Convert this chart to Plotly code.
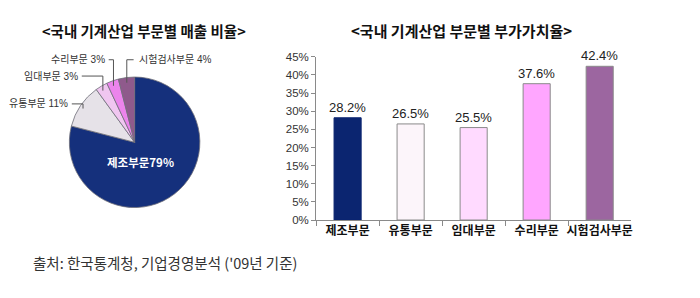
import math
import plotly.graph_objects as go

# ---------------- data ----------------
pie_labels = ["제조부문", "유통부문", "임대부문", "수리부문", "시험검사부문"]
pie_values = [79, 11, 3, 3, 4]

bar_categories = ["제조부문", "유통부문", "임대부문", "수리부문", "시험검사부문"]
bar_values = [28.2, 26.5, 25.5, 37.6, 42.4]

y_ticks = [0, 5, 10, 15, 20, 25, 30, 35, 40, 45]

pie_title = "&lt;국내 기계산업 부문별 매출 비율&gt;"
bar_title = "&lt;국내 기계산업 부문별 부가가치율&gt;"
source_text = "출처: 한국통계청, 기업경영분석 ('09년 기준)"

# ---------------- style ----------------
W, H = 700, 298
pie_colors = ["#15307c", "#e6e2e8", "#f0c6f0", "#ec84ec", "#8f5a8c"]
bar_colors = ["#0b2570", "#fcf5fa", "#ffdaff", "#ffa6ff", "#9c66a0"]
bar_lines = ["#0b2570", "#8a8a8a", "#8a8a8a", "#8a8a8a", "#8a8a8a"]
FONT = "Liberation Sans, Noto Sans CJK KR, sans-serif"
KFONT = "Noto Sans CJK KR, sans-serif"


def px(x):
    return x / W


def py(y):
    return 1 - y / H


# pie geometry (pixels)
cx, cy, r = 135, 142, 68

fig = go.Figure()

fig.add_trace(go.Pie(
    labels=pie_labels,
    values=pie_values,
    sort=False,
    direction="clockwise",
    rotation=0,
    textinfo="none",
    hoverinfo="label+percent",
    marker=dict(colors=pie_colors, line=dict(color="#6e6e78", width=0.8)),
    domain=dict(x=[px(cx - r), px(cx + r)], y=[py(cy + r), py(cy - r)]),
    showlegend=False,
))

fig.add_trace(go.Bar(
    x=bar_categories,
    y=bar_values,
    marker=dict(color=bar_colors, line=dict(color=bar_lines, width=1)),
    width=0.43,
    texttemplate="%{y:.1f}%",
    textposition="outside",
    constraintext="none",
    textfont=dict(family=FONT, size=13, color="#222222"),
    cliponaxis=False,
    showlegend=False,
    xaxis="x", yaxis="y",
))

annotations = []
shapes = []

# titles & source
annotations.append(dict(x=px(144), y=py(26), xref="paper", yref="paper", text=pie_title,
                        showarrow=False, font=dict(family=KFONT, size=14.5, color="#111111", weight="bold"),
                        xanchor="center", yanchor="middle"))
annotations.append(dict(x=px(463), y=py(26), xref="paper", yref="paper", text=bar_title,
                        showarrow=False, font=dict(family=KFONT, size=15, color="#111111", weight="bold"),
                        xanchor="center", yanchor="middle"))
annotations.append(dict(x=px(31), y=py(267), xref="paper", yref="paper", text=source_text,
                        showarrow=False, font=dict(family=KFONT, size=14.5, color="#333333"),
                        xanchor="left", yanchor="middle"))

# big slice label inside
annotations.append(dict(x=px(cx + 6), y=py(cy + 21), xref="paper", yref="paper",
                        text="%s%d%%" % (pie_labels[0], pie_values[0]),
                        showarrow=False, font=dict(family=KFONT, size=11.5, color="white", weight="bold"),
                        xanchor="center", yanchor="middle"))

# outside labels with leader lines (label placement: x edge, y, anchor side)
label_place = {1: (70, 102, "right"), 2: (80, 73, "right"), 3: (107, 56, "right"), 4: (137, 56, "left")}
total = sum(pie_values)
cum = 0
for i, v in enumerate(pie_values):
    mid = (cum + v / 2) / total * 2 * math.pi
    cum += v
    if i not in label_place:
        continue
    lx, ly, side = label_place[i]
    ax = cx + 0.92 * r * math.sin(mid)
    ay = cy - 0.92 * r * math.cos(mid)
    hx = lx + 2 if side == "right" else lx - 3
    shapes.append(dict(type="line", xref="paper", yref="paper", x0=px(ax), y0=py(ay), x1=px(ax), y1=py(ly),
                       line=dict(color="#555555", width=1)))
    shapes.append(dict(type="line", xref="paper", yref="paper", x0=px(ax), y0=py(ly), x1=px(hx), y1=py(ly),
                       line=dict(color="#555555", width=1)))
    annotations.append(dict(x=px(lx), y=py(ly), xref="paper", yref="paper",
                            text="%s %d%%" % (pie_labels[i], v), showarrow=False,
                            font=dict(family=FONT, size=10, color="#333333"),
                            xanchor=side, yanchor="middle"))

fig.update_layout(
    width=W, height=H,
    margin=dict(l=0, r=0, t=0, b=0),
    paper_bgcolor="white", plot_bgcolor="white",
    xaxis=dict(domain=[px(317), px(633)], showline=True, linecolor="#8a8a8a", linewidth=1,
               ticks="outside", tickson="boundaries", ticklen=5, tickcolor="#8a8a8a", tickangle=0,
               tickfont=dict(family=KFONT, size=12, color="#111111", weight="bold"), showgrid=False,
               fixedrange=True),
    yaxis=dict(domain=[py(223), py(53)], range=[0, 45], tickvals=y_ticks,
               ticktext=["%d%%" % t for t in y_ticks], showline=True, linecolor="#8a8a8a",
               linewidth=1, ticks="outside", ticklen=4, tickcolor="#8a8a8a", showgrid=False,
               zeroline=False, tickfont=dict(family=FONT, size=11.5, color="#333333"), fixedrange=True),
    annotations=annotations,
    shapes=shapes,
    bargap=0.57,
)

fig.write_html("out.html")
